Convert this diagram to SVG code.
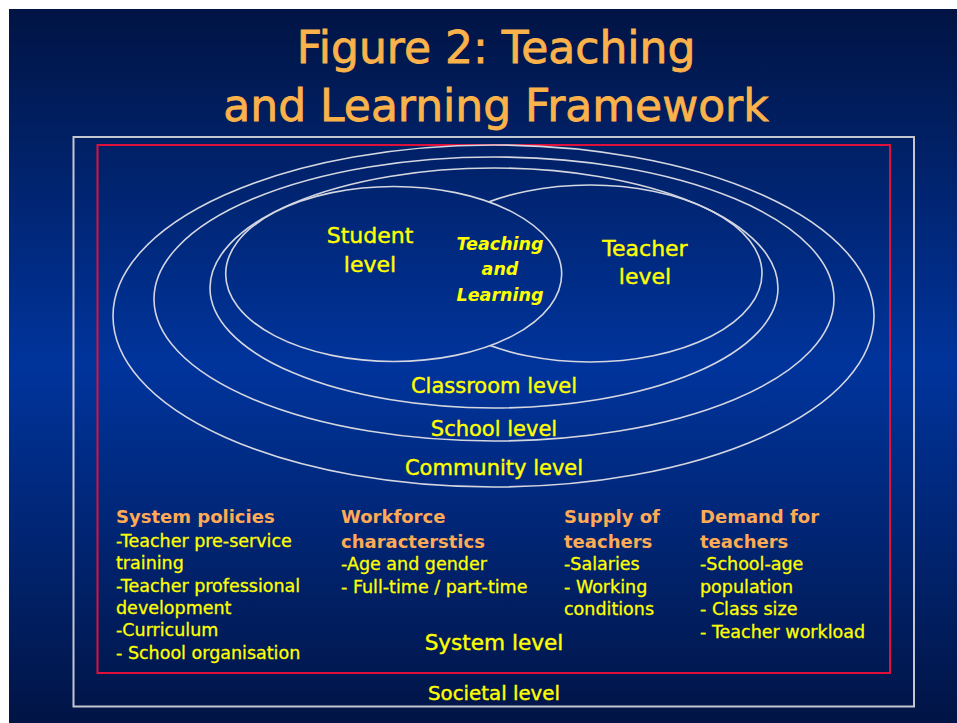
<svg xmlns="http://www.w3.org/2000/svg" width="957" height="723" viewBox="0 0 957 723">
  <defs>
    <linearGradient id="slideBg" gradientUnits="userSpaceOnUse" x1="0" y1="9" x2="0" y2="723">
      <stop offset="0" stop-color="#011444"/>
      <stop offset="0.5" stop-color="#00349c"/>
      <stop offset="1" stop-color="#011445"/>
    </linearGradient>
    <style>
      .ring { fill: none; stroke: #d4d6e0; stroke-width: 1.6; }
      .lvl { font-family: "DejaVu Sans", sans-serif; fill: #ffff00; stroke: #ffff00; stroke-width: 0.4; text-anchor: middle; }
      .title { font-family: "DejaVu Sans", sans-serif; fill: #fbb24a; stroke: #fbb24a; stroke-width: 0.8; font-size: 44px; text-anchor: middle; }
      .tl { font-family: "DejaVu Sans", sans-serif; fill: #ffff00; font-size: 17.5px; font-weight: bold; font-style: italic; text-anchor: middle; }
      .head { font-family: "DejaVu Sans", sans-serif; fill: #ffaa55; font-size: 18px; font-weight: bold; }
      .item { font-family: "DejaVu Sans", sans-serif; fill: #ffff00; stroke: #ffff00; stroke-width: 0.3; font-size: 17.5px; }
    </style>
  </defs>

  <!-- slide -->
  <rect x="0" y="0" width="957" height="723" fill="#ffffff"/>
  <rect x="9" y="9" width="948" height="714" fill="url(#slideBg)"/>

  <g id="title">
    <text class="title" x="496" y="63">Figure 2: Teaching</text>
    <text class="title" x="496" y="121">and Learning Framework</text>
  </g>

  <!-- societal and system frames -->
  <g id="societal-level">
    <rect x="73.5" y="137" width="840.5" height="569.5" fill="none" stroke="#c4c6d0" stroke-width="2"/>
    <text class="lvl" x="494" y="700" font-size="19.8">Societal level</text>
  </g>
  <g id="system-level">
    <rect x="97.5" y="145" width="792.5" height="528" fill="none" stroke="#e0103c" stroke-width="2"/>
    <text class="lvl" x="494" y="650" font-size="21.6">System level</text>
  </g>

  <!-- nested levels -->
  <g id="community-level">
    <ellipse class="ring" cx="493.5" cy="316" rx="380.5" ry="171"/>
    <text class="lvl" x="494" y="475" font-size="21">Community level</text>
  </g>
  <g id="school-level">
    <ellipse class="ring" cx="494" cy="299" rx="340" ry="142"/>
    <text class="lvl" x="494" y="436" font-size="21">School level</text>
  </g>
  <g id="classroom-level">
    <ellipse class="ring" cx="494" cy="288" rx="284" ry="120"/>
    <text class="lvl" x="494" y="393" font-size="21">Classroom level</text>
  </g>
  <g id="teacher-level">
    <ellipse class="ring" cx="590" cy="273.5" rx="172" ry="88.5"/>
    <text class="lvl" x="645" y="256" font-size="22">Teacher</text>
    <text class="lvl" x="645" y="284" font-size="22">level</text>
  </g>
  <g id="student-level">
    <!-- filled so the teacher ring is hidden inside it -->
    <ellipse cx="393.7" cy="274" rx="168" ry="87.5" fill="url(#slideBg)" stroke="#d4d6e0" stroke-width="1.6"/>
    <text class="lvl" x="370" y="243" font-size="22">Student</text>
    <text class="lvl" x="370" y="272" font-size="22">level</text>
  </g>
  <g id="teaching-and-learning">
    <text class="tl" x="500" y="250">Teaching</text>
    <text class="tl" x="500" y="275">and</text>
    <text class="tl" x="500" y="301">Learning</text>
  </g>

  <!-- system-level factors -->
  <g id="system-policies">
    <text class="head" x="116" y="523">System policies</text>
    <text class="item" x="116" y="547">-Teacher pre-service</text>
    <text class="item" x="116" y="569">training</text>
    <text class="item" x="116" y="592">-Teacher professional</text>
    <text class="item" x="116" y="614">development</text>
    <text class="item" x="116" y="636">-Curriculum</text>
    <text class="item" x="116" y="659">- School organisation</text>
  </g>
  <g id="workforce-characteristics">
    <text class="head" x="341" y="523">Workforce</text>
    <text class="head" x="341" y="548">characterstics</text>
    <text class="item" x="341" y="570">-Age and gender</text>
    <text class="item" x="341" y="593">- Full-time / part-time</text>
  </g>
  <g id="supply-of-teachers">
    <text class="head" x="564" y="523">Supply of</text>
    <text class="head" x="564" y="548">teachers</text>
    <text class="item" x="564" y="570">-Salaries</text>
    <text class="item" x="564" y="593">- Working</text>
    <text class="item" x="564" y="615">conditions</text>
  </g>
  <g id="demand-for-teachers">
    <text class="head" x="700" y="523">Demand for</text>
    <text class="head" x="700" y="548">teachers</text>
    <text class="item" x="700" y="570">-School-age</text>
    <text class="item" x="700" y="593">population</text>
    <text class="item" x="700" y="615">- Class size</text>
    <text class="item" x="700" y="638">- Teacher workload</text>
  </g>
</svg>
